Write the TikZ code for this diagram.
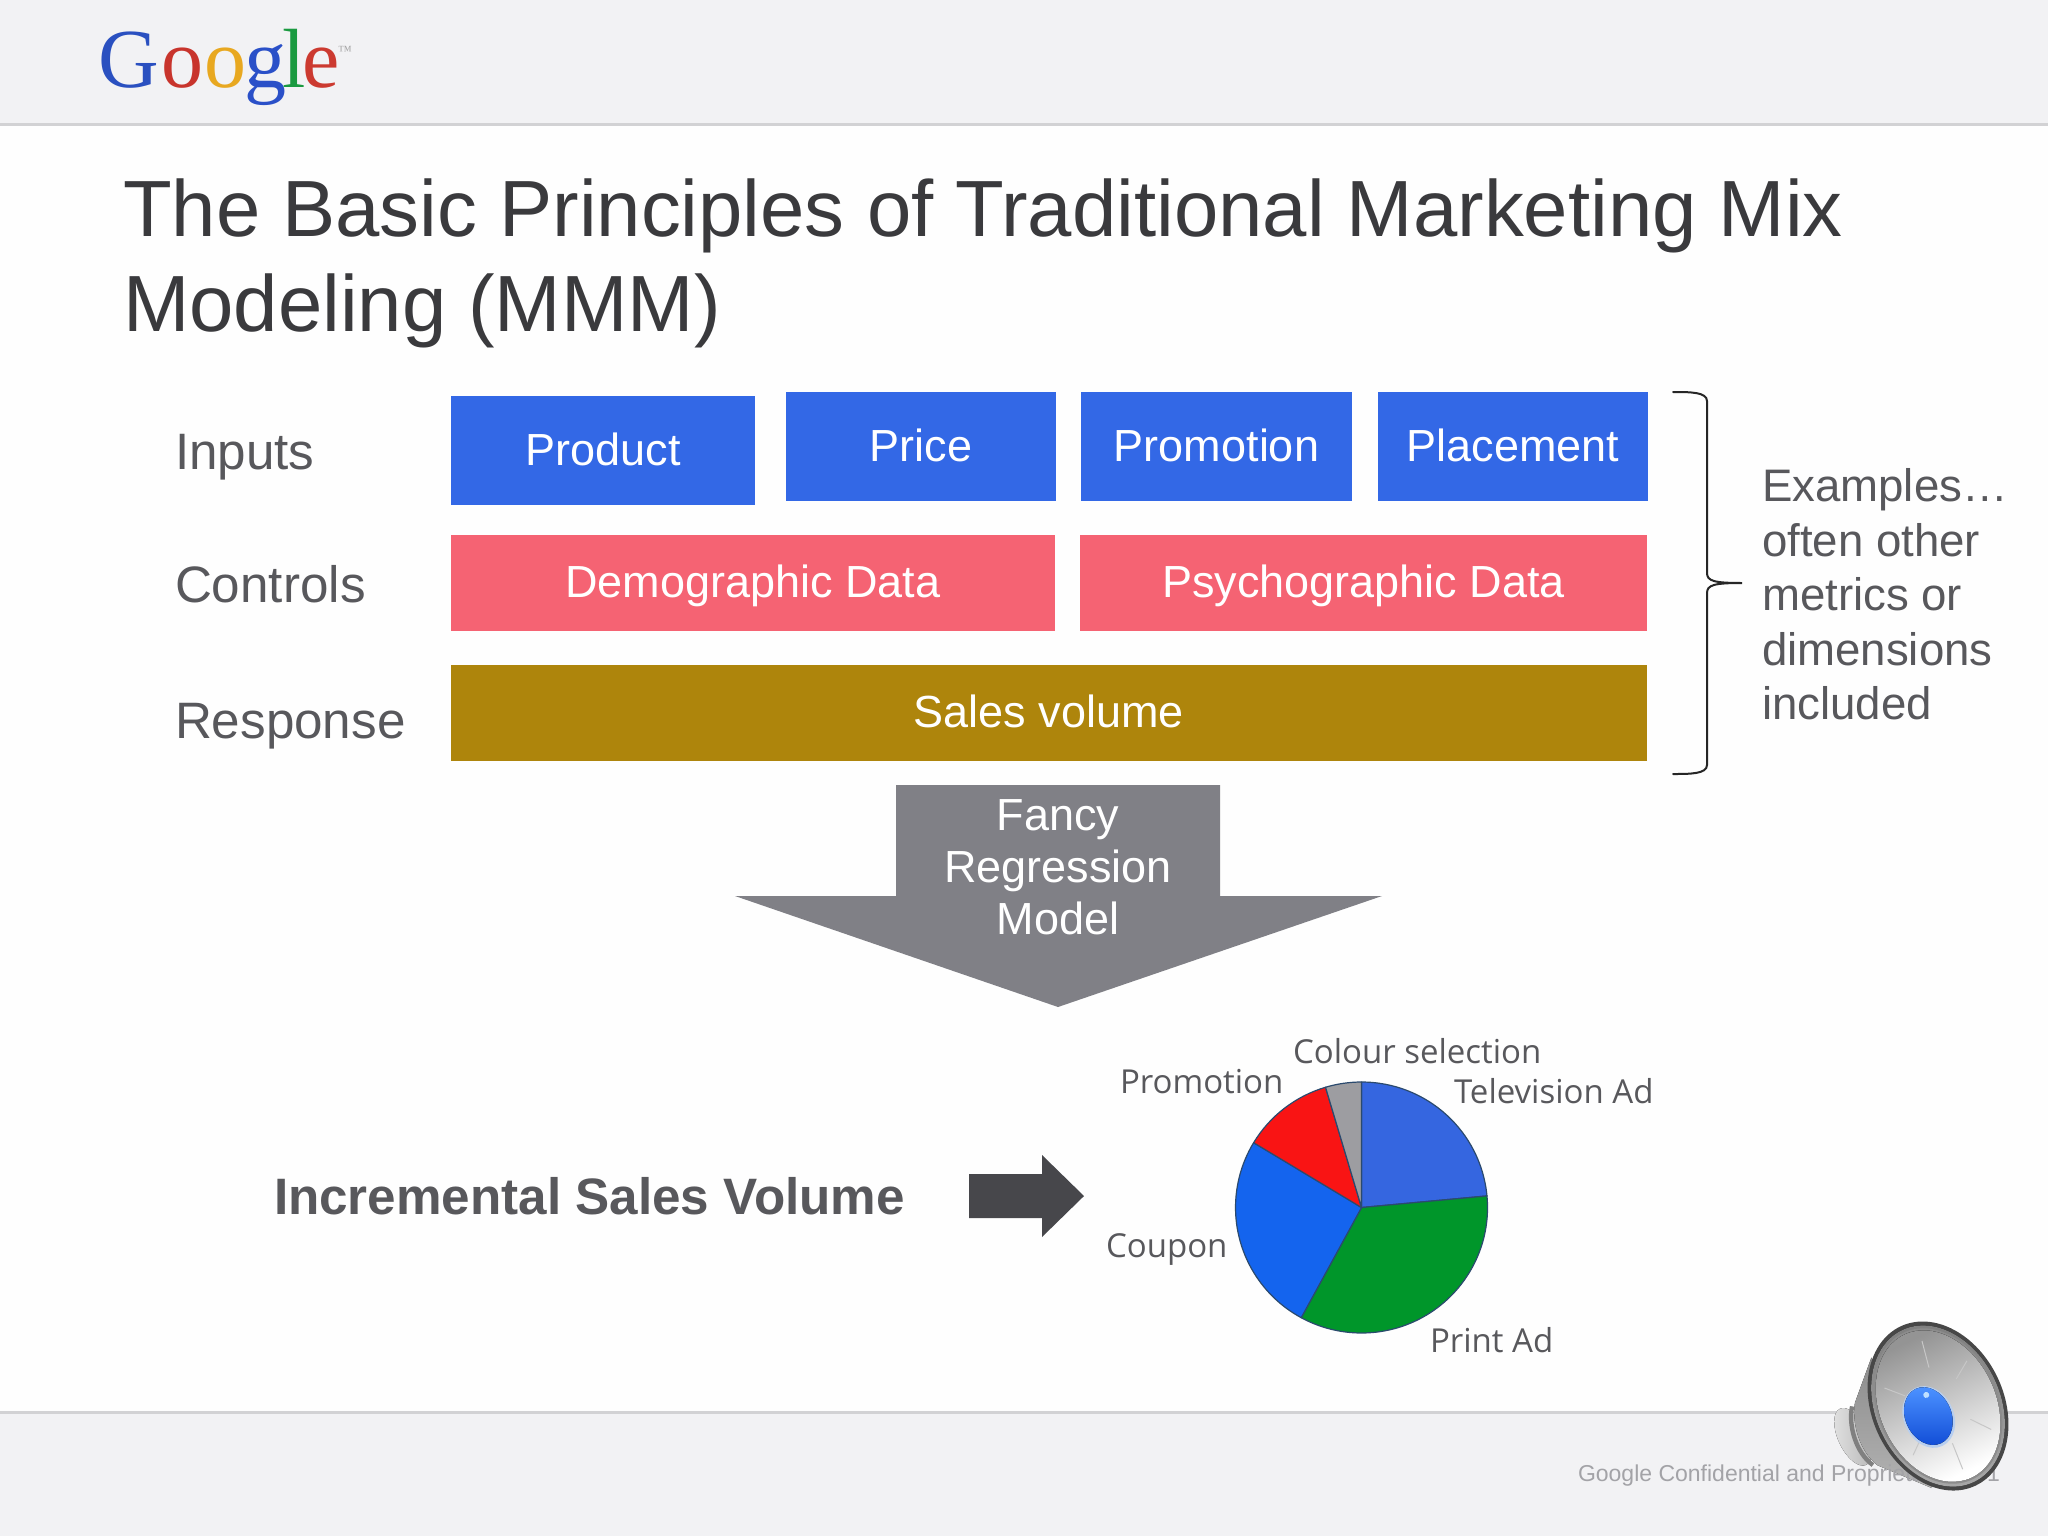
\documentclass[tikz,border=0pt]{standalone}
\usepackage{fontspec}
\setmainfont{Liberation Sans}
\newfontfamily\serifgoogle{Liberation Serif}
\newfontfamily\piefont{Open Sans}
\newcommand{\fs}[1]{\fontsize{#1}{#1}\selectfont}
\definecolor{pagecol}{HTML}{FEFEFE}
\definecolor{bandcol}{HTML}{F2F2F4}
\definecolor{linecol}{HTML}{D2D2D4}
\definecolor{titlecol}{HTML}{3A3A3D}
\definecolor{labelcol}{HTML}{58585C}
\definecolor{bluebox}{HTML}{3368E6}
\definecolor{pinkbox}{HTML}{F56373}
\definecolor{goldbox}{HTML}{AE850C}
\definecolor{arrowgrey}{HTML}{808086}
\definecolor{arrowdark}{HTML}{47474B}
\definecolor{piestroke}{HTML}{2B4A6E}
\definecolor{pietv}{HTML}{3566E0}
\definecolor{piegreen}{HTML}{00962A}
\definecolor{piecoupon}{HTML}{1464EE}
\definecolor{piered}{HTML}{F91414}
\definecolor{piegray}{HTML}{9D9DA1}
\definecolor{footcol}{HTML}{A3A3A7}
\definecolor{balltop}{HTML}{4A90FF}
\definecolor{ballbot}{HTML}{1450D8}
\definecolor{ballhalo}{HTML}{B8CFF0}
\definecolor{ballspot}{HTML}{BFE0FF}
\tikzset{
  txt/.style={inner sep=0pt,outer sep=0pt,anchor=base west},
  boxbase/.style={inner sep=0pt,outer sep=0pt,text=white,align=center,text height=14.5pt,text depth=0pt,font=\fs{22.5}},
  bluerect/.style={boxbase,fill=bluebox},
  pinkrect/.style={boxbase,fill=pinkbox},
  goldrect/.style={boxbase,fill=goldbox},
  rowlabel/.style={txt,text=labelcol,font=\fs{25.6}},
  exlabel/.style={txt,text=labelcol,font=\fs{22.8}},
  arrowtext/.style={anchor=base,inner sep=0pt,text=white,font=\fs{22.5}},
  pielabel/.style={txt,text=labelcol,font=\piefont\fs{16.5}},
  gletter/.style={inner sep=0pt,outer sep=0pt,anchor=base,font=\serifgoogle\fs{42}},
  slice/.style={draw=piestroke,line width=0.6pt,line join=round},
  speakerpos/.style={shift={(1938,1406)},rotate=25},
}
\begin{document}
\begin{tikzpicture}[x=0.5pt,y=-0.5pt]
\useasboundingbox (0,0) rectangle (2048,1536);
\fill[pagecol] (0,0) rectangle (2048,1536);
% bands
\fill[bandcol] (0,0) rectangle (2048,124);
\fill[bandcol] (0,1412) rectangle (2048,1536);
\draw[linecol,line width=1.5pt] (0,124) -- (2048,124);
\draw[linecol,line width=1.5pt] (0,1412) -- (2048,1412);
% logo
\node[gletter,text={rgb,255:red,42;green,80;blue,192}] (gG) at (129,88) {G};
\node[gletter,text={rgb,255:red,200;green,52;blue,44}] (go1) at (182,88) {o};
\node[gletter,text={rgb,255:red,232;green,168;blue,32}] (go2) at (225,88) {o};
\node[gletter,text={rgb,255:red,42;green,80;blue,200}] (gg2) at (265,88) {g};
\node[gletter,text={rgb,255:red,26;green,154;blue,64}] (gl) at (294,88) {l};
\node[gletter,text={rgb,255:red,204;green,58;blue,48}] (ge) at (321,88) {e};
\node[inner sep=0pt,anchor=base,text=black!35,font=\serifgoogle\fs{7}] (gtm) at (345,56) {™};
% title
\node[txt,text=titlecol,font=\fs{39.85}] (t1) at (123,236) {The Basic Principles of Traditional Marketing Mix};
\node[txt,text=titlecol,font=\fs{39.85}] (t2) at (123,331) {Modeling (MMM)};
% row labels
\node[rowlabel] (inputs) at (175,469) {Inputs};
\node[rowlabel] (controls) at (175,602) {Controls};
\node[rowlabel] (response) at (175,738) {Response};
% boxes
\node[bluerect,minimum width=152pt,minimum height=54.5pt] (product) at (603,450.5) {Product};
\node[bluerect,minimum width=135pt,minimum height=54.5pt] (price) at (921,446.5) {Price};
\node[bluerect,minimum width=135.5pt,minimum height=54.5pt] (promotion) at (1216.5,446.5) {Promotion};
\node[bluerect,minimum width=135pt,minimum height=54.5pt] (placement) at (1513,446.5) {Placement};
\node[pinkrect,minimum width=302pt,minimum height=48pt] (demo) at (753,583) {Demographic Data};
\node[pinkrect,minimum width=283.5pt,minimum height=48pt] (psycho) at (1363.5,583) {Psychographic Data};
\node[goldrect,minimum width=598pt,minimum height=48pt] (sales) at (1049,713) {Sales volume};
% brace
\draw[black!85,line width=1pt,line cap=round]
  (1673,392) .. controls (1690,392) and (1707,392) .. (1707,401)
  -- (1707,573) .. controls (1707,581) and (1714,583) .. (1742,583)
  .. controls (1714,583) and (1707,585) .. (1707,593)
  -- (1707,765) .. controls (1707,774) and (1690,774) .. (1673,774);
% examples
\node[exlabel] (ex1) at (1762,501) {Examples…};
\node[exlabel] (ex2) at (1762,556) {often other};
\node[exlabel] (ex3) at (1762,610) {metrics or};
\node[exlabel] (ex4) at (1762,665) {dimensions};
\node[exlabel] (ex5) at (1762,719) {included};
% big arrow
\fill[arrowgrey] (896,785) -- (1220,785) -- (1220,896) -- (1382,896) -- (1058,1007) -- (735,896) -- (896,896) -- cycle;
\node[arrowtext] (fa1) at (1058,830) {Fancy};
\node[arrowtext] (fa2) at (1058,882) {Regression};
\node[arrowtext] (fa3) at (1058,934) {Model};
% incremental
\node[txt,text=labelcol,font=\fs{25.6}\bfseries] (incr) at (274,1214.5) {Incremental Sales Volume};
\fill[arrowdark] (969,1174) -- (1042,1174) -- (1042,1155) -- (1084,1196) -- (1042,1237) -- (1042,1218) -- (969,1218) -- cycle;
% pie
\begin{scope}[shift={(1361.5,1207.5)},yscale=-1]
\filldraw[slice,fill=pietv] (0,0) -- (90:126 and 125.5) arc[start angle=90,end angle=5.3,x radius=126,y radius=125.5] -- cycle;
\filldraw[slice,fill=piegreen] (0,0) -- (5.3:126 and 125.5) arc[start angle=5.3,end angle=-118.6,x radius=126,y radius=125.5] -- cycle;
\filldraw[slice,fill=piecoupon] (0,0) -- (241.4:126 and 125.5) arc[start angle=241.4,end angle=148.9,x radius=126,y radius=125.5] -- cycle;
\filldraw[slice,fill=piered] (0,0) -- (148.9:126 and 125.5) arc[start angle=148.9,end angle=106.6,x radius=126,y radius=125.5] -- cycle;
\filldraw[slice,fill=piegray] (0,0) -- (106.6:126 and 125.5) arc[start angle=106.6,end angle=90,x radius=126,y radius=125.5] -- cycle;
\end{scope}
\node[pielabel] (pl1) at (1293,1063) {Colour selection};
\node[pielabel] (pl2) at (1120,1093) {Promotion};
\node[pielabel] (pl3) at (1454,1103) {Television Ad};
\node[pielabel] (pl4) at (1106,1257) {Coupon};
\node[pielabel] (pl5) at (1430,1352) {Print Ad};
% speaker back
\begin{scope}[speakerpos]
\fill[left color=black!12,right color=black!28] (-90,-8) ellipse[x radius=15,y radius=31];
\fill[top color=black!45,bottom color=black!30] (-40,-72) -- (-74,-38) .. controls (-86,-20) and (-90,8) .. (-80,28) -- (-40,72) -- cycle;
\draw[black!50,line width=2.2pt] (-78,-36) .. controls (-90,-20) and (-94,8) .. (-84,26);
\end{scope}
% footer
\node[txt,text=footcol,font=\fs{11.5}] (foot) at (1578,1481) {Google Confidential and Proprietary};
\node[txt,text=footcol,font=\fs{11.5}] (footnum) at (1987,1481) {1};
% speaker front
\begin{scope}[speakerpos]
\fill[black!72] (0,0) ellipse[x radius=66,y radius=88];
\fill[top color=black!50,bottom color=black!35] (0,0) ellipse[x radius=62.5,y radius=84];
\fill[black!45] (0,0) ellipse[x radius=60,y radius=81];
\fill[left color=black!42,right color=white,shading angle=25] (0,0) ellipse[x radius=58,y radius=79];
\foreach \a in {40,95,150,215,285,335}{
  \draw[black!22,line width=0.5pt] (\a:31 and 40) -- (\a:50 and 68);
}
\fill[ballhalo] (-13,6) ellipse[x radius=25,y radius=32];
\fill[top color=balltop,bottom color=ballbot] (-13,5) ellipse[x radius=23,y radius=30];
\fill[ballspot] (-6,-15) circle[radius=3];
\end{scope}
\end{tikzpicture}
\end{document}
